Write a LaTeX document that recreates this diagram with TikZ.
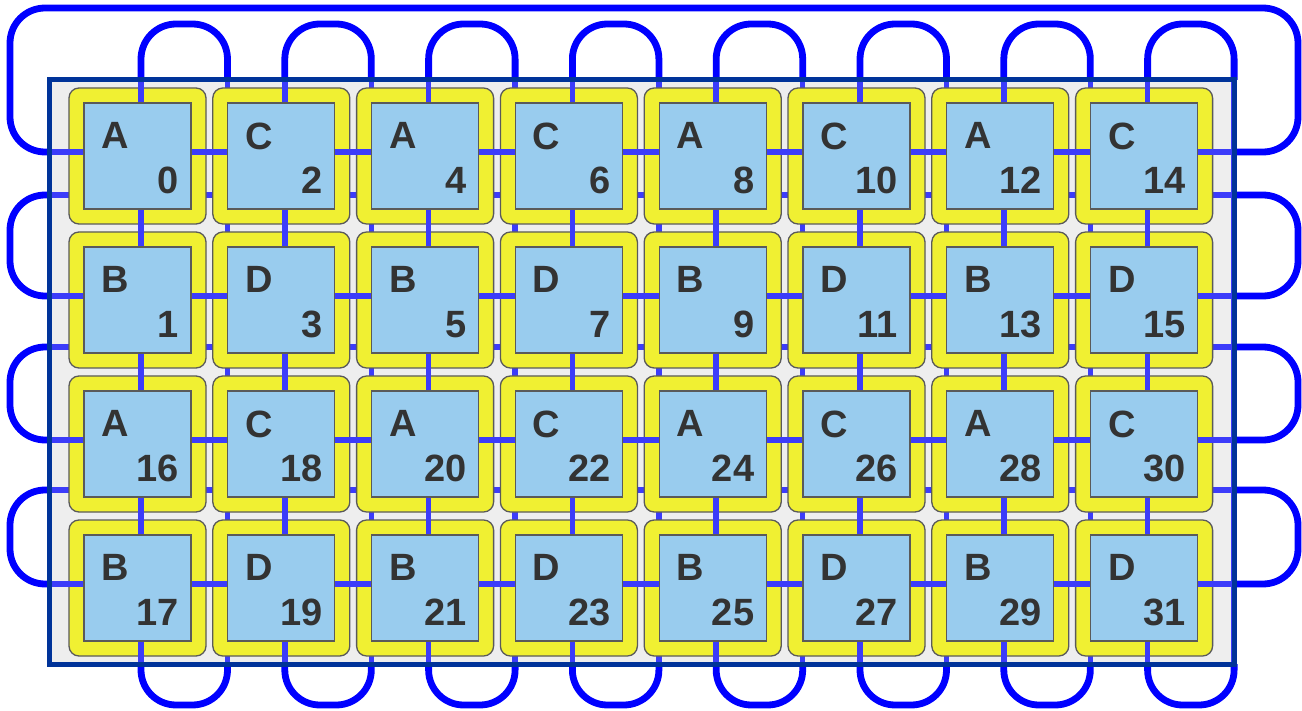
\documentclass[tikz,border=0pt]{standalone}
\usepackage{fontspec}
\setmainfont{Liberation Sans}
\usetikzlibrary{positioning}

\definecolor{ringblue}{RGB}{0,0,255}
\definecolor{meshblue}{RGB}{60,60,250}
\definecolor{boardnavy}{RGB}{0,51,153}
\definecolor{boardgray}{RGB}{238,238,238}
\definecolor{tileyellow}{RGB}{240,240,50}
\definecolor{chipblue}{RGB}{153,204,238}
\definecolor{rimgray}{RGB}{90,90,90}
\definecolor{inkgray}{RGB}{51,51,51}

\begin{document}
\begin{tikzpicture}[x=1pt, y=-1pt,
  tilebox/.style={draw=rimgray, line width=1.3pt, fill=tileyellow, rounded corners=10pt,
    minimum width=137pt, minimum height=136pt, inner sep=0pt},
  chipbox/.style={draw=rimgray, line width=1.3pt, fill=chipblue,
    minimum width=107pt, minimum height=106pt, inner sep=0pt},
  mesh/.style={meshblue, line width=5.5pt},
  ring/.style={ringblue, line width=6.8pt, rounded corners=35pt},
  kind/.style={font=\fontsize{38}{38}\selectfont\bfseries, text=inkgray, inner sep=0pt},
  rank/.style={font=\fontsize{38}{38}\selectfont\bfseries, text=inkgray, inner sep=0pt}
]
  \useasboundingbox (0,0) rectangle (1302,711);
  \def\pitchx{143.8}
  \def\pitchy{144}

  % board
  \fill[boardgray] (49,80) rectangle (1234,664);

  % line ends on the board edge
  \foreach \i in {0,...,7} {
    \pgfmathsetmacro\px{141+\pitchx*\i}
    \coordinate (colN\i) at (\px,80);
    \coordinate (colS\i) at (\px,664);
    \coordinate (offN\i) at (\px+86.5,80);
    \coordinate (offS\i) at (\px+86.5,664);
  }
  \foreach \j in {0,...,3} {
    \pgfmathsetmacro\py{152+\pitchy*\j}
    \coordinate (rowW\j) at (49,\py);
    \coordinate (rowE\j) at (1234,\py);
  }
  \foreach \j/\oy in {1/195,2/347,3/490} {
    \coordinate (offW\j) at (49,\oy);
    \coordinate (offE\j) at (1234,\oy);
  }

  % wrap-around loops
  \foreach \i in {0,...,7} {
    \draw[ring] (colN\i) -- ++(0,-56) -| (offN\i);
    \draw[ring] (colS\i) -- ++(0,41) -| (offS\i);
  }
  \foreach \j in {1,2,3} {
    \draw[ring] (offW\j) -- ++(-39,0) |- (rowW\j);
    \draw[ring] (offE\j) -- ++(64,0) |- (rowE\j);
  }
  \draw[ring] (rowW0) -- ++(-39,0) -- ++(0,-144) -| ([xshift=64pt]rowE0) -- (rowE0);

  % links hidden under the tiles
  \foreach \i in {0,...,7}
    \draw[mesh] (offN\i) -- (offS\i);
  \foreach \j in {1,2,3}
    \draw[mesh] (offW\j) -- (offE\j);

  % tiles
  \foreach \i in {0,...,7}
    \foreach \j in {0,...,3} {
      \pgfmathtruncatemacro\n{2*\i+mod(\j,2)+16*int(\j/2)}
      \node[tilebox] (t\n) at (137.5+\pitchx*\i,156+\pitchy*\j) {};
    }

  % links through the tiles
  \foreach \i in {0,...,7}
    \draw[mesh] (colN\i) -- (colS\i);
  \foreach \j in {0,...,3}
    \draw[mesh] (rowW\j) -- (rowE\j);

  % chips with their letter and number
  \foreach \i in {0,...,7}
    \foreach \j in {0,...,3} {
      \pgfmathtruncatemacro\n{2*\i+mod(\j,2)+16*int(\j/2)}
      \pgfmathtruncatemacro\k{mod(\i,2)+2*mod(\j,2)}
      \ifcase\k \def\chiptag{A}\or \def\chiptag{C}\or \def\chiptag{B}\or \def\chiptag{D}\fi
      \node[chipbox] (c\n) at (t\n.center) {};
      \node[kind, below right=20pt and 18pt of c\n.north west] (k\n) {\chiptag};
      \node[rank, above left=16pt and 12.5pt of c\n.south east] (r\n) {\n};
    }

  % board edge
  \draw[boardnavy, line width=5pt] (49,80) rectangle (1234,664);
\end{tikzpicture}
\end{document}
